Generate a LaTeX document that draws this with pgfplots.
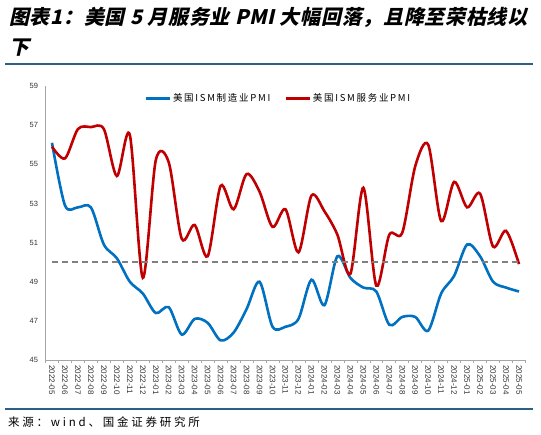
\documentclass[border=0pt]{standalone}
\usepackage{pgfplots}
\pgfplotsset{compat=1.18}
\usepackage{fontspec}
\setmainfont{Liberation Sans}
\newfontfamily\cjk{Noto Sans CJK SC}
\newfontfamily\cjklegend[LetterSpace=18]{Noto Sans CJK SC}
\newfontfamily\cjksrc[LetterSpace=24]{Noto Sans CJK SC}
\newfontfamily\cjkt[FakeSlant=0.22,LetterSpace=3.5]{Noto Sans CJK SC}
\definecolor{mfgblue}{HTML}{0070C0}
\definecolor{svcred}{HTML}{C00000}
\definecolor{rulecol}{HTML}{2C5F86}
\definecolor{axisgray}{HTML}{A6A6A6}

\begin{document}
\begin{tikzpicture}
\path[use as bounding box] (0pt,0pt) rectangle (541pt,-435pt);

% title
\node[anchor=west, inner sep=0pt, font=\cjkt\bfseries\fontsize{20}{22}\selectfont] at (9pt,-17pt)
  {图表1：美国 5 月服务业 PMI 大幅回落，且降至荣枯线以};
\node[anchor=west, inner sep=0pt, font=\cjkt\bfseries\fontsize{20}{22}\selectfont] at (9pt,-48pt) {下};
\draw[rulecol, line width=2pt] (5pt,-64pt) -- (533pt,-64pt);

\begin{axis}[
  at={(45.5pt,-360pt)}, anchor=south west,
  scale only axis, width=480pt, height=274pt,
  axis lines=left, axis line style={axisgray, line width=0.8pt, -},
  xmin=-0.5, xmax=36.5, ymin=45, ymax=59,
  ytick={45,47,...,59},
  xtick={0,...,36},
  xticklabels={2022-05,2022-06,2022-07,2022-08,2022-09,2022-10,2022-11,2022-12,
    2023-01,2023-02,2023-03,2023-04,2023-05,2023-06,2023-07,2023-08,2023-09,2023-10,2023-11,2023-12,
    2024-01,2024-02,2024-03,2024-04,2024-05,2024-06,2024-07,2024-08,2024-09,2024-10,2024-11,2024-12,
    2025-01,2025-02,2025-03,2025-04,2025-05},
  minor xtick={-0.5,0.5,...,36.5},
  major tick length=0pt, minor tick length=3pt,
  tick align=outside, tick style={axisgray, line width=0.6pt},
  x tick label style={rotate=-90, anchor=west, font=\fontsize{8}{9}\selectfont, text=black!80},
  y tick label style={font=\fontsize{7.5}{8}\selectfont, text=black!80},
  /pgf/number format/assume math mode=true,
  xticklabel shift=2pt, yticklabel shift=4pt,
  legend style={at={(0.485,0.955)}, anchor=center, draw=none, fill=none,
    legend columns=2, font=\cjklegend\fontsize{9.5}{10}\selectfont, inner sep=0pt,
    /tikz/every even column/.append style={column sep=12pt}},
  legend cell align=left,
  legend image code/.code={\draw[#1, line width=2.6pt] (0pt,0pt) -- (24pt,0pt);},
]
\addplot[mfgblue, line width=2.6pt, smooth, tension=0.5] coordinates {
  (0,56.1) (1,52.9) (2,52.8) (3,52.8) (4,50.9) (5,50.2) (6,49.0) (7,48.4)
  (8,47.4) (9,47.7) (10,46.3) (11,47.1) (12,46.9) (13,46.0) (14,46.4) (15,47.6)
  (16,49.0) (17,46.7) (18,46.7) (19,47.1) (20,49.1) (21,47.8) (22,50.3) (23,49.2)
  (24,48.7) (25,48.5) (26,46.8) (27,47.2) (28,47.2) (29,46.5) (30,48.4) (31,49.3)
  (32,50.9) (33,50.3) (34,49.0) (35,48.7) (36,48.5)};
\addlegendentry{美国ISM制造业PMI}
\addplot[svcred, line width=2.6pt, smooth, tension=0.5] coordinates {
  (0,55.9) (1,55.3) (2,56.8) (3,56.9) (4,56.8) (5,54.4) (6,56.5) (7,49.2)
  (8,55.2) (9,55.1) (10,51.2) (11,51.9) (12,50.3) (13,53.9) (14,52.7) (15,54.5)
  (16,53.6) (17,51.8) (18,52.7) (19,50.5) (20,53.4) (21,52.6) (22,51.4) (23,49.4)
  (24,53.8) (25,48.8) (26,51.4) (27,51.5) (28,54.9) (29,56.0) (30,52.1) (31,54.1)
  (32,52.8) (33,53.5) (34,50.8) (35,51.6) (36,49.9)};
\addlegendentry{美国ISM服务业PMI}
\addplot[gray, line width=1.4pt, dash pattern=on 6pt off 4pt, forget plot] coordinates {(0,50) (36,50)};
\end{axis}

\draw[rulecol, line width=1.6pt] (5pt,-409pt) -- (533pt,-409pt);
\node[anchor=west, inner sep=0pt, font=\cjksrc\fontsize{11.5}{12}\selectfont] at (8pt,-422pt)
  {来源：wind、国金证券研究所};
\end{tikzpicture}
\end{document}
